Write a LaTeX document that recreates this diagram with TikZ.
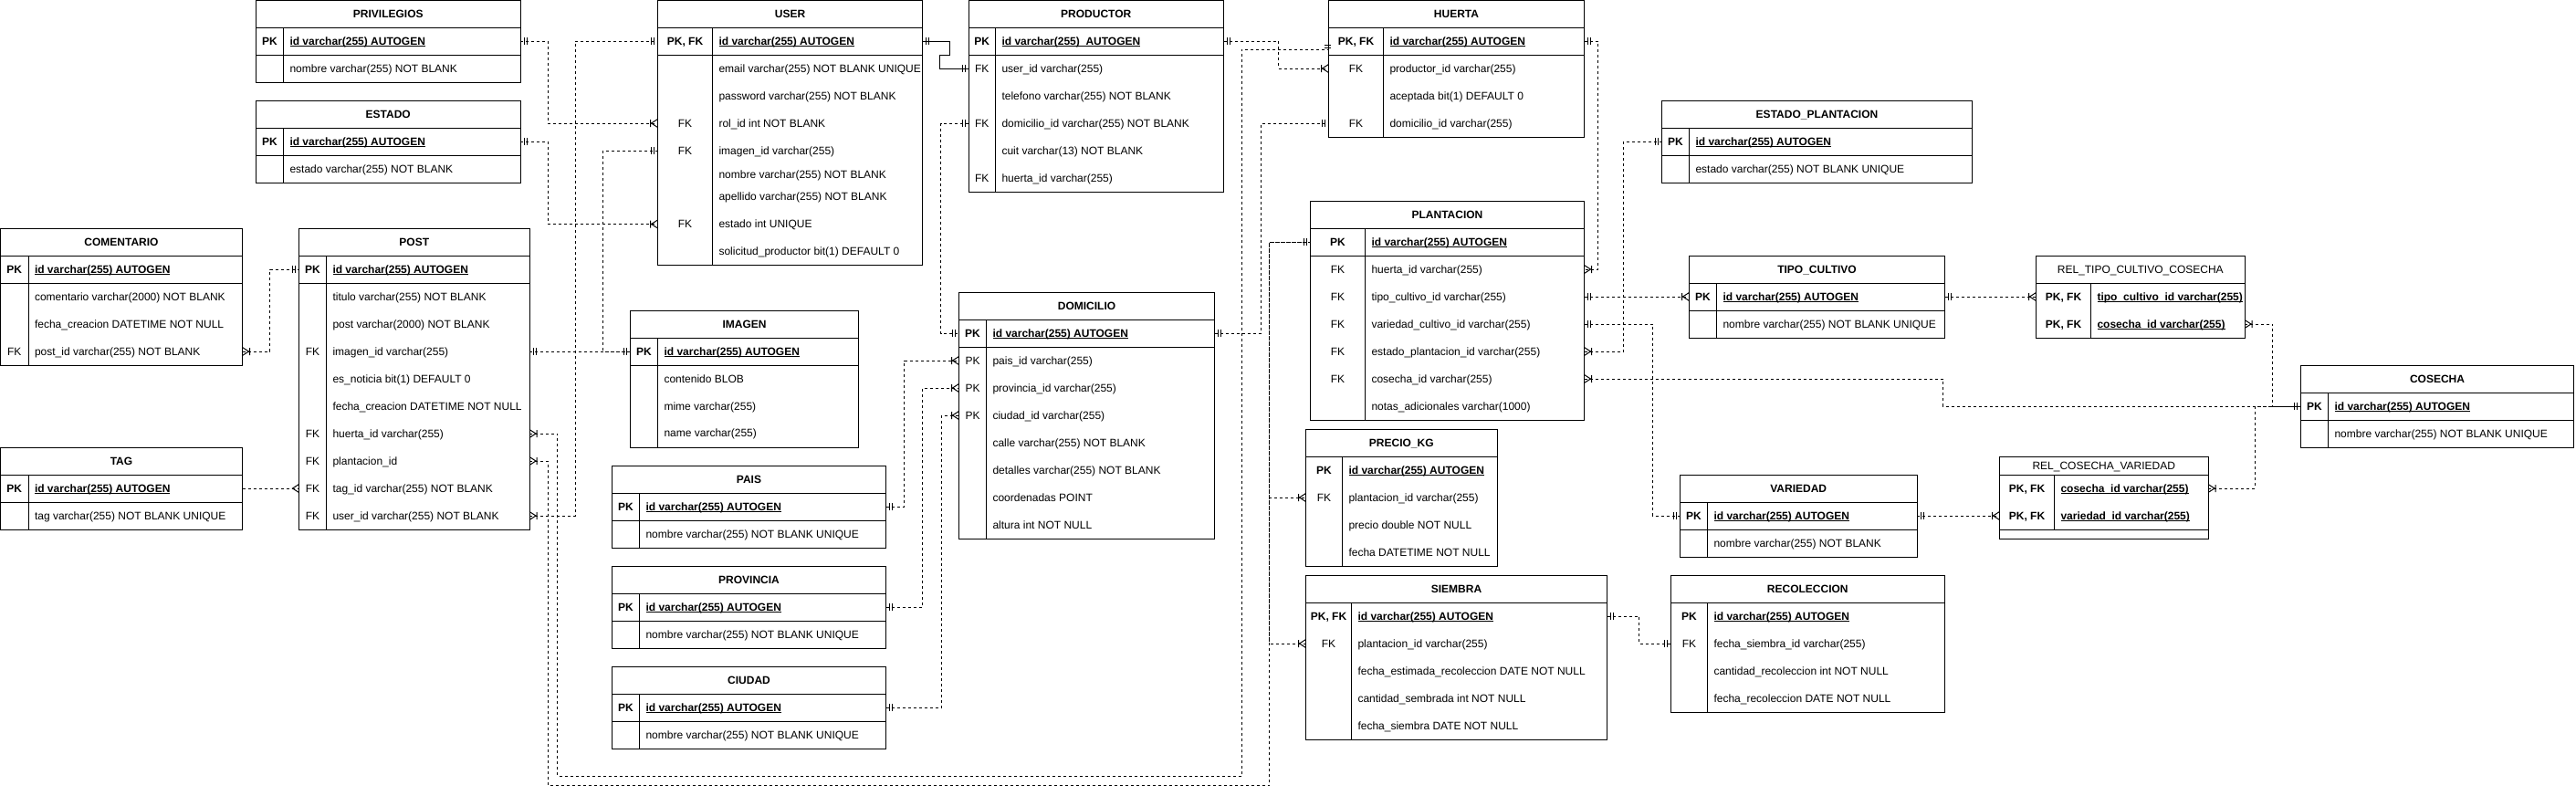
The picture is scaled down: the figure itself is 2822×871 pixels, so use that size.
\documentclass[tikz,border=0pt]{standalone}
\usepackage{fontspec}
\setmainfont{Liberation Sans}
\usetikzlibrary{fit,calc}
\newcommand\myul[1]{\setbox0=\hbox{#1}\rlap{\rule[-1.8pt]{\wd0}{0.8pt}}\box0}
\newcommand\pkid{\textbf{\myul{id varchar(255) AUTOGEN}}}
\newcommand\ertable[9]{%
  \node[tbl, fit={(#2,#3)(#4,#5)}] (#1) {};
  \draw[tline] (#2,#6) -- (#4,#6);
  \draw[tline] (#7,#6) -- (#7,#8);
  \node[anchor=base] (#1-title) at ({(#2+#4)/2},{(#3+#6)/2+4.3}) {#9};
}
\newcommand\errow[7]{%
  \node[rowbox, fit={(#2,{#4-12})(#3,{#4+12})}] (#1) {};
  \node[anchor=base] (#1-k) at ({(#2+#5)/2},{#4+4.3}) {#6};
  \node[anchor=base west] (#1-f) at ({#5+7},{#4+4.3}) {#7};
}
\newcommand\mone[2]{\draw[mk] ([xshift=#2*4pt,yshift=4pt]#1) -- ([xshift=#2*4pt,yshift=-4pt]#1) ([xshift=#2*7pt,yshift=4pt]#1) -- ([xshift=#2*7pt,yshift=-4pt]#1);}
\newcommand\mmany[2]{\draw[mk] ([yshift=4.5pt]#1) -- ([xshift=#2*7pt]#1) -- ([yshift=-4.5pt]#1) ([xshift=#2*8pt,yshift=4pt]#1) -- ([xshift=#2*8pt,yshift=-4pt]#1);}
\newcommand\mcrow[2]{\draw[mk] ([yshift=4.5pt]#1) -- ([xshift=#2*7pt]#1) -- ([yshift=-4.5pt]#1);}
\begin{document}
\begin{tikzpicture}[x=1pt,y=-1pt,
  every node/.style={font=\fontsize{12}{14}\selectfont, inner sep=0pt, outer sep=0pt},
  tbl/.style={draw, line width=1pt, fill=white, inner sep=0pt},
  rowbox/.style={inner sep=0pt},
  tline/.style={line width=1pt},
  conn/.style={line width=1pt, dash pattern=on 3pt off 3pt},
  solidconn/.style={line width=1pt},
  mk/.style={line width=1pt, solid}]
\fill[white] (0,0) rectangle (2822,871);
\useasboundingbox (0,0) rectangle (2822,871);

% PRIVILEGIOS
\ertable{priv}{280.5}{0.5}{570}{90}{30}{310.5}{90}{\textbf{PRIVILEGIOS}}
\draw[tline] (280.5,60) -- (570,60);
\errow{priv-pk}{280.5}{570}{45}{310.5}{\textbf{PK}}{\pkid}
\errow{priv-nom}{280.5}{570}{75}{310.5}{}{nombre varchar(255) NOT BLANK}

% ESTADO
\ertable{est}{280.5}{110.5}{570}{200}{140}{310.5}{200}{\textbf{ESTADO}}
\draw[tline] (280.5,170) -- (570,170);
\errow{est-pk}{280.5}{570}{155}{310.5}{\textbf{PK}}{\pkid}
\errow{est-est}{280.5}{570}{185}{310.5}{}{estado varchar(255) NOT BLANK}

% COMENTARIO
\ertable{com}{0.5}{250.5}{265.5}{400}{280}{31}{400}{\textbf{COMENTARIO}}
\draw[tline] (0.5,310) -- (265.5,310);
\errow{com-pk}{0.5}{265.5}{295}{31}{\textbf{PK}}{\pkid}
\errow{com-com}{0.5}{265.5}{325}{31}{}{comentario varchar(2000) NOT BLANK}
\errow{com-fecha}{0.5}{265.5}{355}{31}{}{fecha\_creacion DATETIME NOT NULL}
\errow{com-post}{0.5}{265.5}{385}{31}{FK}{post\_id varchar(255) NOT BLANK}

% POST
\ertable{post}{327.5}{250.5}{580}{580}{280}{357.5}{580}{\textbf{POST}}
\draw[tline] (327.5,310) -- (580,310);
\errow{post-pk}{327.5}{580}{295}{357.5}{\textbf{PK}}{\pkid}
\errow{post-tit}{327.5}{580}{325}{357.5}{}{titulo varchar(255) NOT BLANK}
\errow{post-post}{327.5}{580}{355}{357.5}{}{post varchar(2000) NOT BLANK}
\errow{post-img}{327.5}{580}{385}{357.5}{FK}{imagen\_id varchar(255)}
\errow{post-not}{327.5}{580}{415}{357.5}{}{es\_noticia bit(1) DEFAULT 0}
\errow{post-fecha}{327.5}{580}{445}{357.5}{}{fecha\_creacion DATETIME NOT NULL}
\errow{post-huerta}{327.5}{580}{475}{357.5}{FK}{huerta\_id varchar(255)}
\errow{post-plant}{327.5}{580}{505}{357.5}{FK}{plantacion\_id}
\errow{post-tag}{327.5}{580}{535}{357.5}{FK}{tag\_id varchar(255) NOT BLANK}
\errow{post-user}{327.5}{580}{565}{357.5}{FK}{user\_id varchar(255) NOT BLANK}

% TAG
\ertable{tag}{0.5}{490.5}{265.5}{580}{520}{31}{580}{\textbf{TAG}}
\draw[tline] (0.5,550) -- (265.5,550);
\errow{tag-pk}{0.5}{265.5}{535}{31}{\textbf{PK}}{\pkid}
\errow{tag-tag}{0.5}{265.5}{565}{31}{}{tag varchar(255) NOT BLANK UNIQUE}

% USER
\ertable{user}{720.5}{0.5}{1010.5}{290}{30}{780.5}{290}{\textbf{USER}}
\draw[tline] (720.5,60) -- (1010.5,60);
\errow{user-pk}{720.5}{1010.5}{45}{780.5}{\textbf{PK, FK}}{\pkid}
\errow{user-email}{720.5}{1010.5}{75}{780.5}{}{email varchar(255) NOT BLANK UNIQUE}
\errow{user-pass}{720.5}{1010.5}{105}{780.5}{}{password varchar(255) NOT BLANK}
\errow{user-rol}{720.5}{1010.5}{135}{780.5}{FK}{rol\_id int NOT BLANK}
\errow{user-img}{720.5}{1010.5}{165}{780.5}{FK}{imagen\_id varchar(255)}
\errow{user-nom}{720.5}{1010.5}{191}{780.5}{}{nombre varchar(255) NOT BLANK}
\errow{user-ape}{720.5}{1010.5}{215.5}{780.5}{}{apellido varchar(255) NOT BLANK}
\errow{user-estado}{720.5}{1010.5}{245.5}{780.5}{FK}{estado int UNIQUE}
\errow{user-sol}{720.5}{1010.5}{275.5}{780.5}{}{solicitud\_productor bit(1) DEFAULT 0}

% PRODUCTOR
\ertable{prod}{1061}{0.5}{1340.5}{210}{30}{1090.5}{210}{\textbf{PRODUCTOR}}
\draw[tline] (1061,60) -- (1340.5,60);
\errow{prod-pk}{1061}{1340.5}{45}{1090.5}{\textbf{PK}}{\textbf{\myul{id varchar(255)\ \ AUTOGEN}}}
\errow{prod-user}{1061}{1340.5}{75}{1090.5}{FK}{user\_id varchar(255)}
\errow{prod-tel}{1061}{1340.5}{105}{1090.5}{}{telefono varchar(255) NOT BLANK}
\errow{prod-dom}{1061}{1340.5}{135}{1090.5}{FK}{domicilio\_id varchar(255) NOT BLANK}
\errow{prod-cuit}{1061}{1340.5}{165}{1090.5}{}{cuit varchar(13) NOT BLANK}
\errow{prod-huerta}{1061}{1340.5}{195.5}{1090.5}{FK}{huerta\_id varchar(255)}

% HUERTA
\ertable{huerta}{1455.5}{0.5}{1735.5}{150}{30}{1515.5}{150}{\textbf{HUERTA}}
\draw[tline] (1455.5,60) -- (1735.5,60);
\errow{huerta-pk}{1455.5}{1735.5}{45}{1515.5}{\textbf{PK, FK}}{\pkid}
\errow{huerta-prod}{1455.5}{1735.5}{75}{1515.5}{FK}{productor\_id varchar(255)}
\errow{huerta-acep}{1455.5}{1735.5}{105.5}{1515.5}{}{aceptada bit(1) DEFAULT 0}
\errow{huerta-dom}{1455.5}{1735.5}{135}{1515.5}{FK}{domicilio\_id varchar(255)}

% DOMICILIO
\ertable{dom}{1050.5}{320.5}{1330.5}{590}{350}{1080.5}{590}{\textbf{DOMICILIO}}
\draw[tline] (1050.5,380) -- (1330.5,380);
\errow{dom-pk}{1050.5}{1330.5}{365}{1080.5}{\textbf{PK}}{\pkid}
\errow{dom-pais}{1050.5}{1330.5}{395}{1080.5}{PK}{pais\_id varchar(255)}
\errow{dom-prov}{1050.5}{1330.5}{425}{1080.5}{PK}{provincia\_id varchar(255)}
\errow{dom-ciu}{1050.5}{1330.5}{455}{1080.5}{PK}{ciudad\_id varchar(255)}
\errow{dom-calle}{1050.5}{1330.5}{485.5}{1080.5}{}{calle varchar(255) NOT BLANK}
\errow{dom-det}{1050.5}{1330.5}{515.5}{1080.5}{}{detalles varchar(255) NOT BLANK}
\errow{dom-coor}{1050.5}{1330.5}{545.5}{1080.5}{}{coordenadas POINT}
\errow{dom-alt}{1050.5}{1330.5}{575.5}{1080.5}{}{altura int NOT NULL}

% IMAGEN
\ertable{img}{690.5}{340.5}{940.5}{490}{370}{720.5}{490}{\textbf{IMAGEN}}
\draw[tline] (690.5,400) -- (940.5,400);
\errow{img-pk}{690.5}{940.5}{385}{720.5}{\textbf{PK}}{\pkid}
\errow{img-cont}{690.5}{940.5}{415}{720.5}{}{contenido BLOB}
\errow{img-mime}{690.5}{940.5}{445}{720.5}{}{mime varchar(255)}
\errow{img-name}{690.5}{940.5}{474.5}{720.5}{}{name varchar(255)}

% PAIS
\ertable{pais}{670.5}{510.5}{970.5}{600}{540}{700.5}{600}{\textbf{PAIS}}
\draw[tline] (670.5,570) -- (970.5,570);
\errow{pais-pk}{670.5}{970.5}{555}{700.5}{\textbf{PK}}{\pkid}
\errow{pais-nom}{670.5}{970.5}{585}{700.5}{}{nombre varchar(255) NOT BLANK UNIQUE}

% PROVINCIA
\ertable{prov}{670.5}{620.5}{970.5}{710}{650}{700.5}{710}{\textbf{PROVINCIA}}
\draw[tline] (670.5,680) -- (970.5,680);
\errow{prov-pk}{670.5}{970.5}{665}{700.5}{\textbf{PK}}{\pkid}
\errow{prov-nom}{670.5}{970.5}{695}{700.5}{}{nombre varchar(255) NOT BLANK UNIQUE}

% CIUDAD
\ertable{ciu}{670.5}{730.5}{970.5}{820}{760}{700.5}{820}{\textbf{CIUDAD}}
\draw[tline] (670.5,790) -- (970.5,790);
\errow{ciu-pk}{670.5}{970.5}{775}{700.5}{\textbf{PK}}{\pkid}
\errow{ciu-nom}{670.5}{970.5}{805}{700.5}{}{nombre varchar(255) NOT BLANK UNIQUE}

% ESTADO_PLANTACION
\ertable{estp}{1820.5}{110.5}{2160.5}{200}{140}{1850.5}{200}{\textbf{ESTADO\_PLANTACION}}
\draw[tline] (1820.5,170) -- (2160.5,170);
\errow{estp-pk}{1820.5}{2160.5}{155}{1850.5}{\textbf{PK}}{\pkid}
\errow{estp-est}{1820.5}{2160.5}{185}{1850.5}{}{estado varchar(255) NOT BLANK UNIQUE}

% PLANTACION
\ertable{plant}{1435.5}{220.5}{1735.5}{460}{250}{1495.5}{460}{\textbf{PLANTACION}}
\draw[tline] (1435.5,280) -- (1735.5,280);
\errow{plant-pk}{1435.5}{1735.5}{265}{1495.5}{\textbf{PK}}{\pkid}
\errow{plant-huerta}{1435.5}{1735.5}{295}{1495.5}{FK}{huerta\_id varchar(255)}
\errow{plant-tipo}{1435.5}{1735.5}{325}{1495.5}{FK}{tipo\_cultivo\_id varchar(255)}
\errow{plant-var}{1435.5}{1735.5}{355}{1495.5}{FK}{variedad\_cultivo\_id varchar(255)}
\errow{plant-est}{1435.5}{1735.5}{385}{1495.5}{FK}{estado\_plantacion\_id varchar(255)}
\errow{plant-cos}{1435.5}{1735.5}{415}{1495.5}{FK}{cosecha\_id varchar(255)}
\errow{plant-notas}{1435.5}{1735.5}{445}{1495.5}{}{notas\_adicionales varchar(1000)}

% TIPO_CULTIVO
\ertable{tipo}{1850.5}{280.5}{2130.5}{370}{310}{1880.5}{370}{\textbf{TIPO\_CULTIVO}}
\draw[tline] (1850.5,340) -- (2130.5,340);
\errow{tipo-pk}{1850.5}{2130.5}{325}{1880.5}{\textbf{PK}}{\pkid}
\errow{tipo-nom}{1850.5}{2130.5}{355}{1880.5}{}{nombre varchar(255) NOT BLANK UNIQUE}

% REL_TIPO_CULTIVO_COSECHA
\ertable{rtc}{2230.5}{280.5}{2459}{370}{310}{2290.5}{370}{REL\_TIPO\_CULTIVO\_COSECHA}
\errow{rtc-tipo}{2230.5}{2459}{325}{2290.5}{\textbf{PK, FK}}{\textbf{\myul{tipo\_cultivo\_id varchar(255)}}}
\errow{rtc-cos}{2230.5}{2459}{355}{2290.5}{\textbf{PK, FK}}{\textbf{\myul{cosecha\_id varchar(255)}}}

% REL_COSECHA_VARIEDAD
\ertable{rcv}{2190.5}{500.5}{2419}{590}{520}{2250.5}{580}{REL\_COSECHA\_VARIEDAD}
\draw[tline] (2190.5,580) -- (2419,580);
\errow{rcv-cos}{2190.5}{2419}{535}{2250.5}{\textbf{PK, FK}}{\textbf{\myul{cosecha\_id varchar(255)}}}
\errow{rcv-var}{2190.5}{2419}{565}{2250.5}{\textbf{PK, FK}}{\textbf{\myul{variedad\_id varchar(255)}}}

% COSECHA
\ertable{cos}{2520.5}{400.5}{2819.5}{490}{430}{2550.5}{490}{\textbf{COSECHA}}
\draw[tline] (2520.5,460) -- (2819.5,460);
\errow{cos-pk}{2520.5}{2819.5}{445}{2550.5}{\textbf{PK}}{\pkid}
\errow{cos-nom}{2520.5}{2819.5}{475}{2550.5}{}{nombre varchar(255) NOT BLANK UNIQUE}

% VARIEDAD
\ertable{var}{1840.5}{520.5}{2100}{610}{550}{1870.5}{610}{\textbf{VARIEDAD}}
\draw[tline] (1840.5,580) -- (2100,580);
\errow{var-pk}{1840.5}{2100}{565}{1870.5}{\textbf{PK}}{\pkid}
\errow{var-nom}{1840.5}{2100}{595}{1870.5}{}{nombre varchar(255) NOT BLANK}

% PRECIO_KG
\ertable{precio}{1430.5}{470.5}{1640}{620}{500}{1470.5}{620}{\textbf{PRECIO\_KG}}
\errow{precio-pk}{1430.5}{1640}{515}{1470.5}{\textbf{PK}}{\pkid}
\errow{precio-plant}{1430.5}{1640}{545}{1470.5}{FK}{plantacion\_id varchar(255)}
\errow{precio-pre}{1430.5}{1640}{575}{1470.5}{}{precio double NOT NULL}
\errow{precio-fecha}{1430.5}{1640}{605}{1470.5}{}{fecha DATETIME NOT NULL}

% SIEMBRA
\ertable{siembra}{1430.5}{630.5}{1760.5}{810}{660}{1480.5}{810}{\textbf{SIEMBRA}}
\errow{siembra-pk}{1430.5}{1760.5}{675}{1480.5}{\textbf{PK, FK}}{\pkid}
\errow{siembra-plant}{1430.5}{1760.5}{705}{1480.5}{FK}{plantacion\_id varchar(255)}
\errow{siembra-fer}{1430.5}{1760.5}{735}{1480.5}{}{fecha\_estimada\_recoleccion DATE NOT NULL}
\errow{siembra-cant}{1430.5}{1760.5}{765}{1480.5}{}{cantidad\_sembrada int NOT NULL}
\errow{siembra-fs}{1430.5}{1760.5}{795}{1480.5}{}{fecha\_siembra DATE NOT NULL}

% RECOLECCION
\ertable{rec}{1830.5}{630.5}{2130}{780}{660}{1870.5}{780}{\textbf{RECOLECCION}}
\errow{rec-pk}{1830.5}{2130}{675}{1870.5}{\textbf{PK}}{\pkid}
\errow{rec-fs}{1830.5}{2130}{705}{1870.5}{FK}{fecha\_siembra\_id varchar(255)}
\errow{rec-cant}{1830.5}{2130}{735}{1870.5}{}{cantidad\_recoleccion int NOT NULL}
\errow{rec-fr}{1830.5}{2130}{765}{1870.5}{}{fecha\_recoleccion DATE NOT NULL}

% ---------------- connectors ----------------
\draw[conn] (priv-pk.east) -- ++(30.5,0) |- (user-rol.west);
\mone{priv-pk.east}{1} \mmany{user-rol.west}{-1}
\draw[conn] (est-pk.east) -- ++(30.5,0) |- (user-estado.west);
\mone{est-pk.east}{1} \mmany{user-estado.west}{-1}
\draw[conn] (post-user.east) -- ++(50.4,0) |- (user-pk.west);
\mmany{post-user.east}{1} \mone{user-pk.west}{-1}
\draw[conn] (user-img.west) -- ++(-60,0) |- (img-pk.west);
\mone{user-img.west}{-1} \mone{img-pk.west}{-1}
\draw[conn] (post-img.east) -- (img-pk.west);
\mone{post-img.east}{1}
\draw[conn] (com-post.east) -- ++(30,0) |- (post-pk.west);
\mmany{com-post.east}{1} \mone{post-pk.west}{-1}
\draw[conn] (tag-pk.east) -- (post-tag.west);
\mcrow{post-tag.west}{-1}
\draw[conn] (post-huerta.east) -- ++(30.6,0) |- (1360.3,850.5) |- ([yshift=-9pt]huerta-pk.west);
\mmany{post-huerta.east}{1}
\draw[mk] ([xshift=-5pt,yshift=-4.5pt]huerta-pk.west) -- ([xshift=2.5pt,yshift=-4.5pt]huerta-pk.west)
          ([xshift=-5pt,yshift=-7.5pt]huerta-pk.west) -- ([xshift=2.5pt,yshift=-7.5pt]huerta-pk.west);
\draw[conn] (post-plant.east) -- ++(20.5,0) |- (1390.5,860.5) |- (plant-pk.west);
\mmany{post-plant.east}{1} \mone{plant-pk.west}{-1}
\draw[conn] (plant-pk.west) -- ++(-45,0) |- (precio-plant.west);
\mmany{precio-plant.west}{-1}
\draw[conn] (plant-pk.west) -- ++(-45,0) |- (siembra-plant.west);
\mmany{siembra-plant.west}{-1}
\draw[conn] (prod-dom.west) -- ++(-30.4,0) |- (dom-pk.west);
\mone{prod-dom.west}{-1} \mone{dom-pk.west}{-1}
\draw[solidconn] (user-pk.east) -- ++(29.7,0) -- ++(0,15.3) -- ++(-10.5,0) |- (prod-user.west);
\mone{user-pk.east}{1} \mone{prod-user.west}{-1}
\draw[conn] (pais-pk.east) -- ++(20.4,0) |- (dom-pais.west);
\mone{pais-pk.east}{1} \mmany{dom-pais.west}{-1}
\draw[conn] (prov-pk.east) -- ++(40.1,0) |- (dom-prov.west);
\mone{prov-pk.east}{1} \mmany{dom-prov.west}{-1}
\draw[conn] (ciu-pk.east) -- ++(60.6,0) |- (dom-ciu.west);
\mone{ciu-pk.east}{1} \mmany{dom-ciu.west}{-1}
\draw[conn] (dom-pk.east) -- ++(50.6,0) |- (huerta-dom.west);
\mone{dom-pk.east}{1} \mone{huerta-dom.west}{-1}
\draw[conn] (prod-pk.east) -- ++(59.8,0) |- (huerta-prod.west);
\mone{prod-pk.east}{1} \mmany{huerta-prod.west}{-1}
\draw[conn] (huerta-pk.east) -- ++(15.1,0) |- (plant-huerta.east);
\mone{huerta-pk.east}{1} \mmany{plant-huerta.east}{1}
\draw[conn] (plant-tipo.east) -- (tipo-pk.west);
\mone{plant-tipo.east}{1} \mmany{tipo-pk.west}{-1}
\draw[conn] (plant-var.east) -- ++(74.8,0) |- (var-pk.west);
\mone{plant-var.east}{1} \mone{var-pk.west}{-1}
\draw[conn] (plant-est.east) -- ++(42.5,0) |- (estp-pk.west);
\mmany{plant-est.east}{1} \mone{estp-pk.west}{-1}
\draw[conn] (plant-cos.east) -- ++(392.8,0) |- (cos-pk.west);
\mmany{plant-cos.east}{1} \mone{cos-pk.west}{-1}
\draw[conn] (rtc-cos.east) -- ++(30.8,0) |- (cos-pk.west);
\mmany{rtc-cos.east}{1}
\draw[conn] (rcv-cos.east) -- ++(51,0) |- (cos-pk.west);
\mmany{rcv-cos.east}{1}
\draw[conn] (tipo-pk.east) -- (rtc-tipo.west);
\mone{tipo-pk.east}{1} \mmany{rtc-tipo.west}{-1}
\draw[conn] (var-pk.east) -- (rcv-var.west);
\mone{var-pk.east}{1} \mmany{rcv-var.west}{-1}
\draw[conn] (siembra-pk.east) -- ++(35.2,0) |- (rec-fs.west);
\mone{siembra-pk.east}{1} \mone{rec-fs.west}{-1}
\end{tikzpicture}
\end{document}
